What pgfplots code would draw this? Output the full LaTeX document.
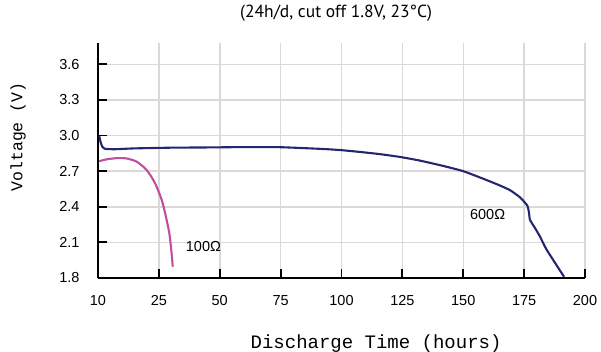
\documentclass[border=0pt]{standalone}
\usepackage{fontspec}
\setmainfont{Liberation Sans}
\setmonofont{Liberation Mono}
\newfontfamily\titlefont{PT Sans}
\usepackage{pgfplots}
\pgfplotsset{compat=1.18}
\definecolor{navyline}{RGB}{36,38,112}
\definecolor{pinkline}{RGB}{192,78,160}
\definecolor{gridgray}{RGB}{220,216,216}

\begin{document}
\begin{tikzpicture}
\begin{axis}[
    set layers,
    at={(0,0)}, anchor=south west,
    scale only axis, width=487bp, height=235bp,
    xmin=0, xmax=200, ymin=1.8, ymax=3.78,
    xtick={0,25,50,75,100,125,150,175,200},
    xticklabels={10,25,50,75,100,125,150,175,200},
    ytick={1.8,2.1,2.4,2.7,3.0,3.3,3.6},
    yticklabel style={/pgf/number format/fixed, /pgf/number format/fixed zerofill,
                      /pgf/number format/precision=1, xshift=-15bp},
    /pgf/number format/assume math mode=true,
    ticklabel style={font=\fontsize{14.5bp}{16bp}\selectfont},
    xticklabel style={yshift=-14bp},
    axis x line*=bottom, axis y line*=left,
    axis line style={line width=1.8bp, black, -},
    tick align=inside,
    major tick length=8.5bp,
    every tick/.style={line width=1.8bp, black},
    grid=major,
    major grid style={gridgray, line width=1.5bp},
    title={\titlefont\fontsize{17.5bp}{19bp}\selectfont (24h/d, cut off 1.8V, 23°C)},
    title style={at={(axis description cs:0.489,1.102)}, anchor=center, yshift=0bp},
    xlabel={\ttfamily\fontsize{19bp}{21bp}\selectfont Discharge Time (hours)},
    xlabel style={at={(axis description cs:0.571,-0.277)}, anchor=center},
    ylabel={\ttfamily\fontsize{16.5bp}{18bp}\selectfont Voltage (V)},
    ylabel style={at={(axis description cs:-0.164,0.6)}, anchor=center, rotate=0},
    clip=false,
]
% 600 ohm
\addplot[navyline, line width=2.1bp, smooth, tension=0.3] coordinates {
(0.5,3.0) (1.0,2.95) (1.8,2.905) (3.0,2.888) (7,2.885) (15,2.892) (30,2.898)
(45,2.90) (60,2.903) (75,2.902) (92.5,2.887) (100,2.877) (107.6,2.862)
(116,2.843) (124,2.82) (132,2.79) (141,2.748) (150,2.70) (159.6,2.625)
(165,2.58) (169.2,2.54) (173.3,2.48) (176.3,2.41) (177,2.35) (177.4,2.29)
(179.5,2.22) (181.5,2.15) (184.2,2.04) (191.4,1.81)
};
% 100 ohm
\addplot[pinkline, line width=2.1bp, smooth, tension=0.4] coordinates {
(0.5,2.784) (3.6,2.80) (7.7,2.81) (11.8,2.807) (15.9,2.78) (20,2.71)
(23.4,2.60) (26.2,2.456) (27.9,2.316) (29.3,2.176) (30.1,2.036) (30.7,1.895)
};
\node[font=\fontsize{14.5bp}{16bp}\selectfont] at (axis cs:43.3,2.063) {100Ω};
\node[font=\fontsize{14.5bp}{16bp}\selectfont] at (axis cs:160,2.338) {600Ω};
% inner tick marks
\pgfplotsinvokeforeach{25,50,75,100,125,150,175,200}{
  \draw[line width=1.8bp, black] (axis cs:#1,1.8) -- (axis cs:#1,1.865);
}
\pgfplotsinvokeforeach{2.1,2.4,2.7,3.0,3.3,3.6}{
  \draw[line width=1.8bp, black] (axis cs:0,#1) -- (axis cs:3.9,#1);
}
\end{axis}
\pgfresetboundingbox
\useasboundingbox (-98bp,-74bp) rectangle (503bp,278bp);
\end{tikzpicture}
\end{document}
